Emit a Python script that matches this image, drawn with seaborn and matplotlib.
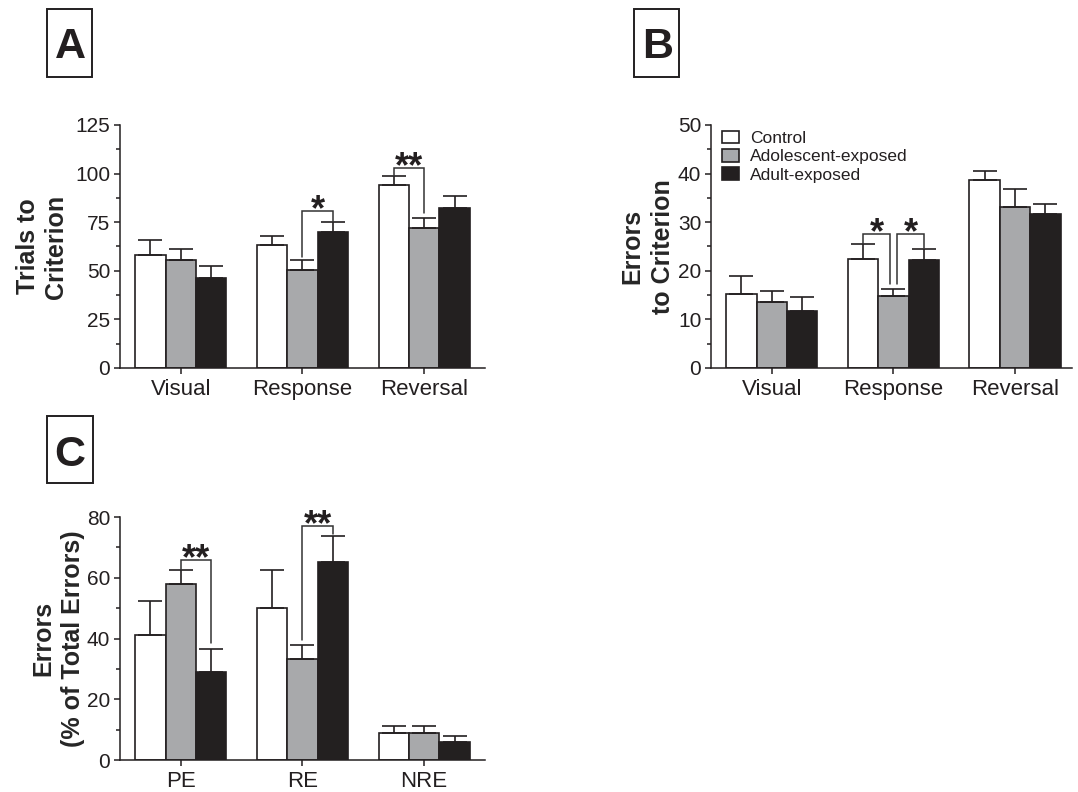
import matplotlib
matplotlib.use("Agg")
import matplotlib.pyplot as plt
from matplotlib.patches import Patch, Rectangle
from matplotlib.ticker import AutoMinorLocator
import seaborn as sns
import numpy as np
import pandas as pd

# ── data (means and SEM) ─────────────────────────────────────────────
groups = ["Control", "Adolescent-exposed", "Adult-exposed"]
colors = ["#ffffff", "#a7a9ac", "#231f20"]
tasks = ["Visual", "Response", "Reversal"]
error_types = ["PE", "RE", "NRE"]

# A: trials to criterion
trials_control = [58.0, 63.0, 94.0]
trials_adol = [55.5, 50.5, 72.2]
trials_adult = [46.2, 69.8, 82.1]
trials_control_sem = [8.0, 5.0, 4.9]
trials_adol_sem = [5.7, 5.2, 5.1]
trials_adult_sem = [6.5, 5.5, 6.5]

# B: errors to criterion
errors_control = [15.3, 22.5, 38.7]
errors_adol = [13.5, 14.8, 33.2]
errors_adult = [11.7, 22.3, 31.6]
errors_control_sem = [3.6, 3.0, 1.9]
errors_adol_sem = [2.4, 1.4, 3.6]
errors_adult_sem = [2.9, 2.1, 2.1]

# C: error type, % of total errors
pct_control = [41.1, 50.2, 8.8]
pct_adol = [57.9, 33.2, 8.8]
pct_adult = [29.0, 65.2, 6.0]
pct_control_sem = [11.3, 12.3, 2.5]
pct_adol_sem = [4.6, 4.8, 2.5]
pct_adult_sem = [7.5, 8.6, 1.9]

INK = "#231f20"

sns.set_style("ticks")
plt.rcParams["font.family"] = ["Liberation Sans", "DejaVu Sans"]
plt.rcParams.update({
    "axes.edgecolor": INK, "axes.linewidth": 1.1,
    "xtick.color": INK, "ytick.color": INK, "text.color": INK,
    "xtick.major.size": 4.5, "ytick.major.size": 4.5,
    "ytick.minor.size": 2.8, "xtick.major.width": 1.1,
    "ytick.major.width": 1.1, "ytick.minor.width": 1.1,
    "xtick.labelsize": 16, "ytick.labelsize": 15,
    "ytick.major.pad": 2.5,
})


def bar_panel(ax, cats, means, sems, ymax, ystep, ylabel, label_x, spacing):
    rows = [{"cat": c, "group": g, "value": v}
            for g, vals in zip(groups, means) for c, v in zip(cats, vals)]
    df = pd.DataFrame(rows)
    sns.barplot(data=df, x="cat", y="value", hue="group", hue_order=groups,
                order=cats, palette=dict(zip(groups, colors)), width=0.75,
                errorbar=None, edgecolor=INK, linewidth=1.2, legend=False,
                ax=ax)
    bars = list(ax.containers)[:3]
    for cont, sem in zip(bars, sems):
        xs = [b.get_x() + b.get_width() / 2 for b in cont]
        ys = [b.get_height() for b in cont]
        ax.errorbar(xs, ys, yerr=[np.zeros(len(sem)), sem], fmt="none",
                    ecolor=INK, elinewidth=1.2, capsize=8.5, capthick=1.2)
    ax.set_ylim(0, ymax)
    ax.set_yticks(np.arange(0, ymax + 0.1, ystep))
    ax.yaxis.set_minor_locator(AutoMinorLocator(2))
    ax.set_xlim(-0.5, 2.5)
    ax.set_xlabel("")
    ax.set_ylabel(ylabel, fontsize=18, fontweight="bold", linespacing=spacing)
    ax.yaxis.set_label_coords(label_x, 0.5)
    sns.despine(ax=ax)
    return bars


def bracket(ax, bars, cat, h1, h2, y1, top, y2, text, dx1=0.0, dx2=0.0):
    b1, b2 = bars[h1][cat], bars[h2][cat]
    x1 = b1.get_x() + b1.get_width() / 2 + dx1
    x2 = b2.get_x() + b2.get_width() / 2 + dx2
    ax.plot([x1, x1, x2, x2], [y1, top, top, y2], color="#333333", lw=1.1,
            solid_joinstyle="miter", clip_on=False)
    ax.annotate(text, xy=((x1 + x2) / 2, top), xytext=(0, -6.5),
                textcoords="offset points", ha="center", va="baseline",
                fontsize=26, fontweight="bold", annotation_clip=False)


fig = plt.figure(figsize=(10.78, 7.92), dpi=100)
ax_a = fig.add_axes([0.1113, 0.5354, 0.3386, 0.3068])
ax_b = fig.add_axes([0.6596, 0.5354, 0.3349, 0.3068])
ax_c = fig.add_axes([0.1113, 0.0404, 0.3386, 0.3068])

# ── A ─────────────────────────────────────────────────────────────────
bars_a = bar_panel(ax_a, tasks, [trials_control, trials_adol, trials_adult],
                   [trials_control_sem, trials_adol_sem, trials_adult_sem],
                   125, 25, "Trials to\nCriterion", -0.142, 1.23)
bracket(ax_a, bars_a, 1, 1, 2, 57.3, 80.7, 75.3, "*")
bracket(ax_a, bars_a, 2, 0, 1, 98.8, 103.0, 79.7, "**")

# ── B ─────────────────────────────────────────────────────────────────
bars_b = bar_panel(ax_b, tasks, [errors_control, errors_adol, errors_adult],
                   [errors_control_sem, errors_adol_sem, errors_adult_sem],
                   50, 10, "Errors\nto Criterion", -0.10, 1.35)
ax_b.set_xlim(-0.5, 2.47)
bracket(ax_b, bars_b, 1, 0, 1, 25.5, 27.5, 17.2, "*", dx2=-0.025)
bracket(ax_b, bars_b, 1, 1, 2, 17.2, 27.5, 24.6, "*", dx1=0.033)
handles = [Patch(facecolor=c, edgecolor=INK, linewidth=1.2) for c in colors]
ax_b.legend(handles, groups, loc="upper left", bbox_to_anchor=(0.03, 0.977),
            frameon=False, fontsize=12.5, borderpad=0, borderaxespad=0,
            handlelength=1.0, handleheight=0.75, handletextpad=0.6,
            labelspacing=0.17)

# ── C ─────────────────────────────────────────────────────────────────
bars_c = bar_panel(ax_c, error_types, [pct_control, pct_adol, pct_adult],
                   [pct_control_sem, pct_adol_sem, pct_adult_sem],
                   80, 20, "Errors\n(% of Total Errors)", -0.095, 1.33)
bracket(ax_c, bars_c, 0, 1, 2, 62.5, 65.8, 38.6, "**")
bracket(ax_c, bars_c, 1, 1, 2, 39.5, 77.0, 74.5, "**")

# ── panel letters in boxes (pixel geometry of the figure) ────────────
W, H = 1078, 792
for letter, (bx0, by0, bx1, by1), (tx, ty) in [
        ("A", (46.7, 9.3, 91.7, 76.7), (70, 58)),
        ("B", (634, 9, 679, 77), (658, 57.5)),
        ("C", (47, 416, 92.7, 483.3), (69.5, 466.5))]:
    fig.add_artist(Rectangle((bx0 / W, 1 - by1 / H), (bx1 - bx0) / W,
                             (by1 - by0) / H, transform=fig.transFigure,
                             fill=False, ec=INK, lw=1.4))
    fig.text(tx / W, 1 - ty / H, letter, ha="center", va="baseline",
             fontsize=31, fontweight="bold")

fig.savefig("out.png", dpi=100)
